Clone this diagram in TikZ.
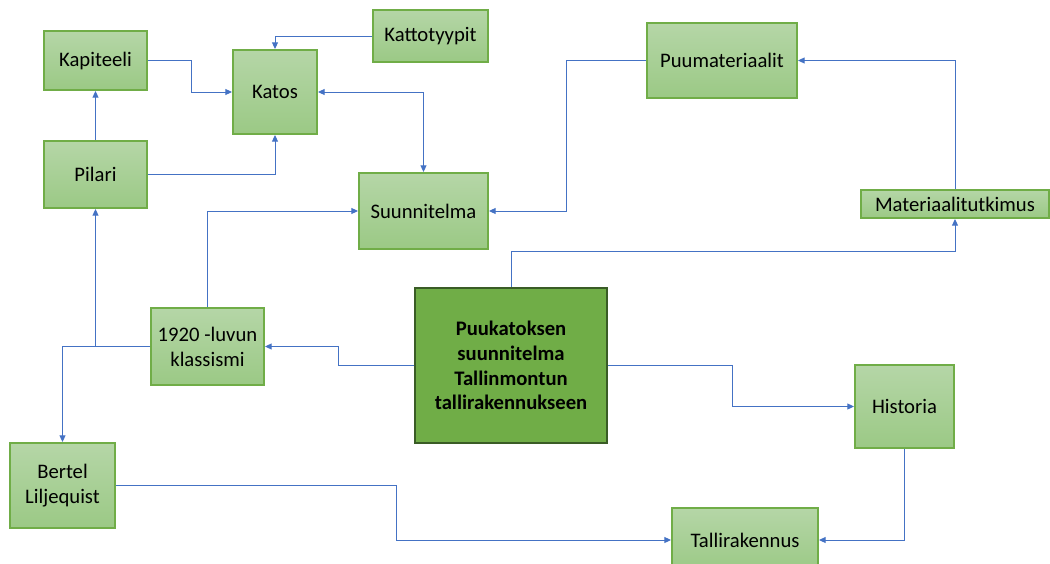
\documentclass[tikz,border=0pt]{standalone}
\usepackage{fontspec}
\setmainfont{Carlito}
\usepackage{xcolor}
\usetikzlibrary{arrows.meta}
\definecolor{boxline}{HTML}{70AD47}
\definecolor{boxtop}{HTML}{B5D6A7}
\definecolor{boxbot}{HTML}{9BC985}
\definecolor{mainfill}{HTML}{70AD47}
\definecolor{mainline}{HTML}{3A5C26}
\definecolor{linkblue}{HTML}{4472C4}
\begin{document}
\begin{tikzpicture}[x=0.75pt,y=-0.75pt,
  box/.style={draw=boxline, line width=1.5pt, top color=boxtop, bottom color=boxbot,
    inner sep=0pt, align=center, font=\fontsize{15.5}{18.7}\selectfont},
  mainbox/.style={draw=mainline, line width=1.5pt, fill=mainfill,
    inner sep=0pt, align=center, font=\fontsize{15.5}{18.6}\selectfont\bfseries},
  link/.style={draw=linkblue, line width=0.75pt, -{Triangle[length=5pt,width=4.5pt]}},
  twoway/.style={link, {Triangle[length=5pt,width=4.5pt]}-{Triangle[length=5pt,width=4.5pt]}}]
\useasboundingbox (0,0) rectangle (1050,564);
% boxes
\node[box, minimum width=103*0.75pt, minimum height=59*0.75pt] (kap) at (95.5,60.5) {Kapiteeli};
\node[box, minimum width=84*0.75pt, minimum height=84*0.75pt] (katos) at (275,92) {Katos};
\node[box, minimum width=115*0.75pt, minimum height=52*0.75pt] (typ) at (430.5,36) {Kattotyypit};
\node[box, minimum width=103*0.75pt, minimum height=67*0.75pt] (pil) at (95.5,174.5) {Pilari};
\node[box, minimum width=129*0.75pt, minimum height=76*0.75pt] (suun) at (423.5,211) {Suunnitelma};
\node[box, minimum width=150*0.75pt, minimum height=75*0.75pt] (puu) at (722,60.5) {Puumateriaalit};
\node[box, minimum width=188*0.75pt, minimum height=28*0.75pt] (mat) at (955,204) {Materiaalitutkimus};
\node[mainbox, minimum width=192*0.75pt, minimum height=155*0.75pt] (main) at (511,365.5)
  {Puukatoksen\\suunnitelma\\Tallinmontun\\tallirakennukseen};
\node[box, minimum width=113*0.75pt, minimum height=77*0.75pt] (kl) at (207.5,346.5) {1920 -luvun\\klassismi};
\node[box, minimum width=99*0.75pt, minimum height=83*0.75pt] (hist) at (904.5,406.5) {Historia};
\node[box, minimum width=105*0.75pt, minimum height=85*0.75pt] (bert) at (62.5,485.5) {Bertel\\Liljequist};
\node[box, minimum width=146*0.75pt, minimum height=64*0.75pt] (talli) at (745,540) {Tallirakennus};
% connectors
\draw[link] (kap.east) -- ++(43,0) |- (katos.west);
\draw[link] (typ.west) -| (katos.north);
\draw[link] (pil.north) -- (kap.south);
\draw[link] (pil.east) -| (katos.south);
\draw[twoway] (katos.east) -| (suun.north);
\draw[link] (puu.west) -- ++(-80,0) |- (suun.east);
\draw[link] (kl.north) |- (suun.west);
\draw[link] (main.north) -- ++(0,-36) -| (mat.south);
\draw[link] (mat.north) |- (puu.east);
\draw[link] (main.west) -- ++(-76,0) |- (kl.east);
\draw[link] (kl.west) -| (pil.south);
\draw[link] (kl.west) -| (bert.north);
\draw[link] (main.east) -- ++(124,0) |- (hist.west);
\draw[link] (hist.south) |- (talli.east);
\draw[link] (bert.east) -- ++(280,0) |- (talli.west);
\end{tikzpicture}
\end{document}
